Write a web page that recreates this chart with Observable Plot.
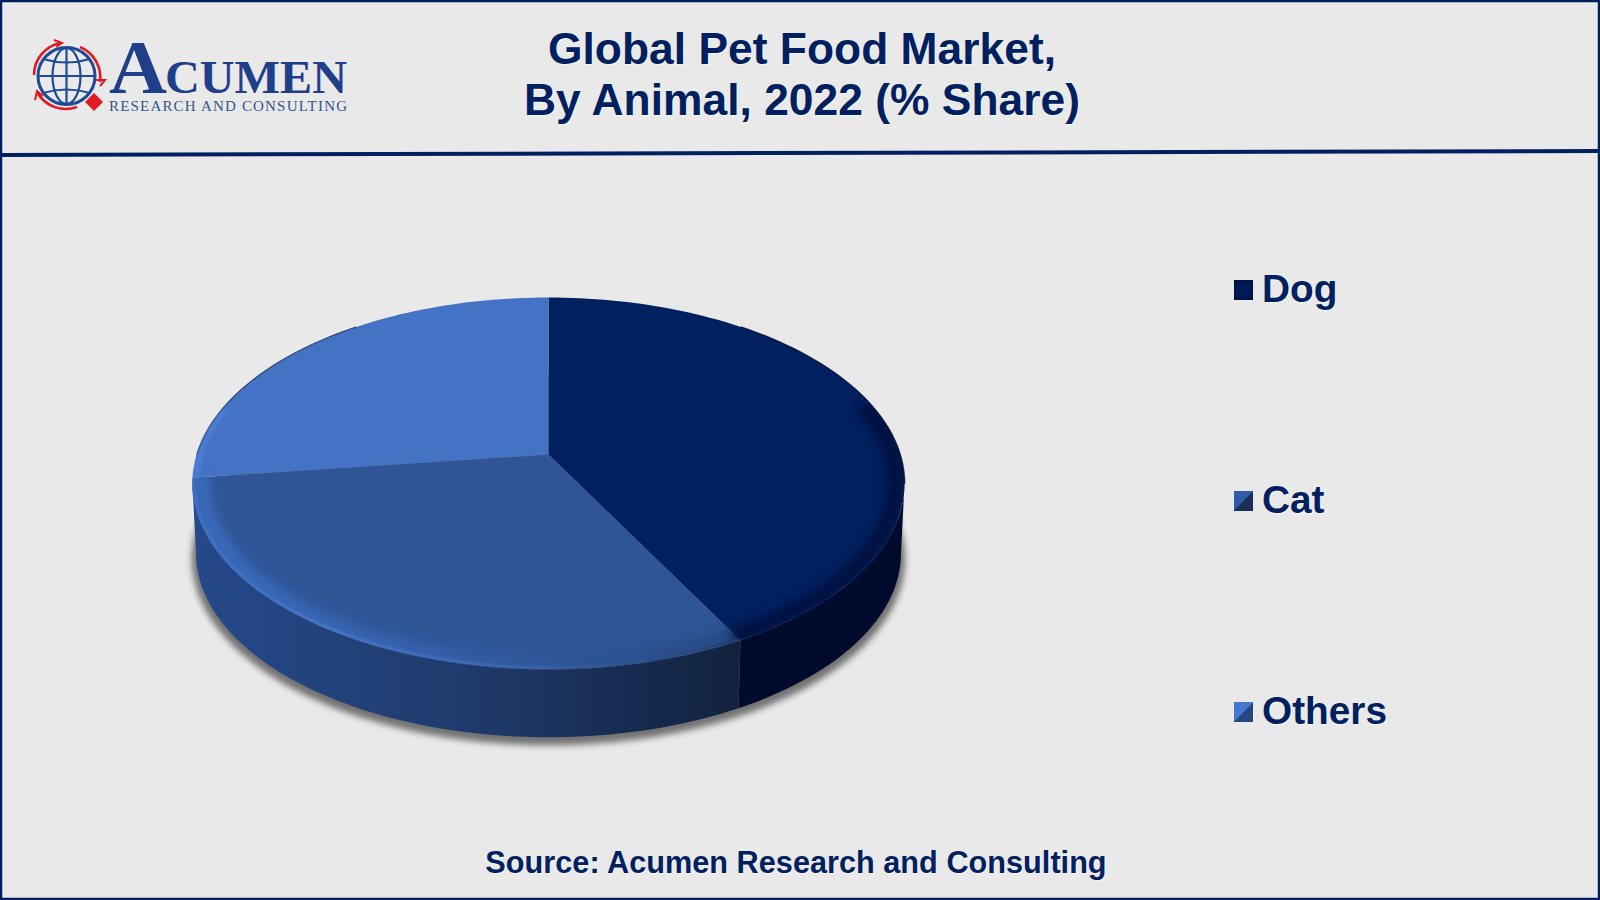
<!DOCTYPE html>
<html>
<head>
<meta charset="utf-8">
<script src="https://cdn.jsdelivr.net/npm/d3@7"></script>
<script src="https://cdn.jsdelivr.net/npm/@observablehq/plot@0.6"></script>
<style>
  html,body{margin:0;padding:0;background:#e9e9e9;}
  #page{position:relative;width:1600px;height:900px;background:#e9e9e9;overflow:hidden;font-family:"Liberation Sans",Arial,sans-serif;color:#002060;}
  #chart,#deco{position:absolute;left:0;top:0;}
  .t{position:absolute;font-weight:700;white-space:nowrap;text-shadow:1px 1px 1px rgba(255,255,255,.7);}
  #title{left:302px;width:1000px;top:23px;text-align:center;font-size:44.4px;line-height:51px;}
  #source{left:296px;width:1000px;top:845px;text-align:center;font-size:30.7px;line-height:36px;}
  .lab{left:1262px;font-size:38.8px;line-height:44px;}
  .sw{position:absolute;left:1234px;width:19px;height:20px;}
</style>
</head>
<body>
<div id="page"></div>
<script>
const categories = ["Dog", "Cat", "Others"];
const shares = [42.2, 30.8, 27];
const topColors = ["#002060", "#2f5597", "#4472c4"];
const titleLines = ["Global Pet Food Market,", "By Animal, 2022 (% Share)"];
const sourceText = "Source: Acumen Research and Consulting";

// disc seen in perspective
const persp = 0.156, depth = 0.385, baseScale = 0.99;
const toRad = Math.PI / 180;
function rim(a) {
  const u = Math.sin(a * toRad), v = Math.cos(a * toRad), w = 1 + persp * v;
  return {x: u / w, y: v / w};
}
function arc(a0, a1, r = 1, shift = 0, k = 1) {
  const n = Math.max(2, Math.ceil(Math.abs(a1 - a0) / 1.5));
  return d3.range(n + 1).map(i => {
    const p = rim(a0 + (a1 - a0) * i / n);
    return {x: p.x * r * k, y: p.y * r * k - shift};
  });
}
const sliceBounds = [];
{
  let acc = 0;
  shares.forEach(s => { sliceBounds.push([acc / 100 * 360, (acc + s) / 100 * 360]); acc += s; });
}
const sideFrom = Math.acos(-persp) / toRad, sideTo = 360 - sideFrom;

const faces = sliceBounds.map(([a0, a1]) => [{x: 0, y: 0}, ...arc(a0, a1), {x: 0, y: 0}]);
const sides = sliceBounds.map(([a0, a1]) => {
  const s = Math.max(a0, sideFrom), e = Math.min(a1, sideTo);
  if (e <= s) return [];
  return [...arc(s, e), ...arc(e, s, 1, depth, baseScale)];
});
const shadow = [...arc(0, 360, 1.012, depth + 0.03, baseScale)];

const sideFills = ["#000a2d", "url(#sideCat)", "#24467f"];

function defs(index, scales) {
  const d = d3.create("svg:defs");
  const grad = (id, stops) => {
    const g = d.append("linearGradient").attr("id", id);
    stops.forEach(([o, c, op]) => g.append("stop").attr("offset", o).attr("stop-color", c).attr("stop-opacity", op ?? 1));
  };
  grad("sideCat", [[0, "#25498a"], [0.5, "#1f3b6c"], [0.8, "#172b50"], [1, "#12223e"]]);
  grad("rimCat", [[0, "#3f72c8"], [0.25, "#4579cc"], [0.55, "#3f6bb8"], [0.8, "#2f5597"], [1, "#1f3b6e"]]);
  grad("rimCatSoft", [[0, "#3f72c8"], [0.35, "#3a68b8"], [0.7, "#2f5597"], [1, "#254680"]]);
  const path = d3.line(p => scales.x(p.x), p => scales.y(p.y));
  d.append("clipPath").attr("id", "topClip").append("path").attr("d", path(arc(0, 360)) + "Z");
  return d.node();
}
function clipTop(index, scales, values, dimensions, context, next) {
  const g = next(index, scales, values, dimensions, context);
  const wrap = d3.create("svg:g").attr("clip-path", "url(#topClip)");
  wrap.node().appendChild(g);
  return wrap.node();
}

const chart = Plot.plot({
  width: 1600, height: 900,
  margin: 0,
  style: {background: "transparent"},
  x: {domain: [-1, 1], range: [548 - 351.7, 548 + 351.7], axis: null},
  y: {domain: [-1, 1], range: [454 + 181.5, 454 - 181.5], axis: null},
  marks: [
    defs,
    Plot.line(shadow, {x: "x", y: "y", fill: "#666666", stroke: "none", fillOpacity: 0.9, imageFilter: "blur(3px)"}),
    ...faces.map((f, i) => Plot.line(f, {x: "x", y: "y", fill: topColors[i], stroke: "none"})),
    // back edge
    Plot.line(arc(38, 99), {x: "x", y: "y", stroke: "#000a2d", strokeWidth: 1.5, strokeOpacity: 0.8}),
    Plot.line(arc(270, 322), {x: "x", y: "y", stroke: "#1a2f58", strokeWidth: 1.2, strokeOpacity: 0.8}),
    // soft bevel on the front rim
    Plot.line(arc(75, sliceBounds[0][1], 0.975), {x: "x", y: "y", stroke: "#000c33", strokeWidth: 16, strokeOpacity: 0.7, imageFilter: "blur(5px)", render: clipTop}),
    Plot.line(arc(sliceBounds[1][0] + 2, sliceBounds[1][1] - 1, 0.975), {x: "x", y: "y", stroke: "url(#rimCatSoft)", strokeWidth: 16, strokeOpacity: 0.8, imageFilter: "blur(6px)", render: clipTop}),
    Plot.line(arc(sliceBounds[1][0] + 1, sliceBounds[1][1] - 1, 0.995), {x: "x", y: "y", stroke: "url(#rimCat)", strokeWidth: 4, imageFilter: "blur(1.5px)", render: clipTop}),
    Plot.line(arc(sliceBounds[2][0] + 0.5, 285, 0.99), {x: "x", y: "y", stroke: "#5585dc", strokeWidth: 5, strokeOpacity: .7, imageFilter: "blur(2px)", render: clipTop}),
    // sides
    ...sides.map((f, i) => f.length ? Plot.line(f, {x: "x", y: "y", fill: sideFills[i], stroke: "none"}) : null)
  ]
});
chart.id = "chart";

const page = document.getElementById("page");
page.appendChild(chart);

// frame, header rule and logo
const NS = "http://www.w3.org/2000/svg";
const deco = document.createElementNS(NS, "svg");
deco.setAttribute("id", "deco");
deco.setAttribute("width", 1600);
deco.setAttribute("height", 900);
deco.innerHTML = `
  <rect x="1" y="1" width="1598" height="898" fill="none" stroke="#002060" stroke-width="2.5"/>
  <polygon points="0,153 1600,149 1600,153 0,157" fill="#002060"/>
  <g fill="none" stroke="#1f4a96" stroke-width="2.2">
    <circle cx="66.5" cy="76" r="28.5" stroke-width="3"/>
    <ellipse cx="66.5" cy="76" rx="14" ry="28"/>
    <line x1="66.5" y1="48" x2="66.5" y2="104"/>
    <line x1="38" y1="76" x2="95" y2="76"/>
    <path d="M43 59 Q66.5 66 90 59"/>
    <path d="M43 93 Q66.5 86 90 93"/>
  </g>
  <g fill="none" stroke="#e01b22" stroke-width="2.6">
    <path d="M34 75 A33 33 0 0 1 60 43"/>
    <path d="M54 40 L62 43 L56 47" stroke-width="2"/>
    <path d="M80 47 A33 33 0 0 1 100 82"/>
    <path d="M96 80 L105 80 L100 86" stroke-width="2"/>
    <path d="M77 107 A33 33 0 0 1 37 92"/>
    <path d="M35 100 L37 91 L43 96" stroke-width="2"/>
  </g>
  <polygon points="94,93 103,102 94,111 85,102" fill="#e01b22"/>
  <text x="109" y="93" font-family="Liberation Serif" font-weight="700" font-size="76" fill="#1f3f8a" textLength="58" lengthAdjust="spacingAndGlyphs">A</text>
  <text x="165" y="93" font-family="Liberation Serif" font-weight="700" font-size="47" fill="#1f3f8a" textLength="182" lengthAdjust="spacingAndGlyphs">CUMEN</text>
  <text x="109" y="111" font-family="Liberation Serif" font-size="15" fill="#34558f" textLength="238" lengthAdjust="spacing">RESEARCH AND CONSULTING</text>
`;
page.appendChild(deco);

function addText(cls, id, html, top) {
  const el = document.createElement("div");
  el.className = "t " + cls;
  if (id) el.id = id;
  el.innerHTML = html;
  if (top != null) el.style.top = top + "px";
  page.appendChild(el);
}
addText("", "title", titleLines.join("<br>"));
addText("", "source", sourceText);

const labelTops = [267, 478, 689];
const swatchTops = [280, 491, 702];
const swatches = [
  "radial-gradient(circle at 50% 50%, #001a55 0%, #00185a 45%, #000f33 100%)",
  "linear-gradient(to bottom right, #2f5ba8 0 50%, #1b2f56 50% 100%)",
  "linear-gradient(to bottom right, #4478d0 0 50%, #26477f 50% 100%)"
];
categories.forEach((c, i) => {
  addText("lab", null, c, labelTops[i]);
  const s = document.createElement("div");
  s.className = "sw";
  s.style.top = swatchTops[i] + "px";
  s.style.background = swatches[i];
  page.appendChild(s);
});
</script>
</body>
</html>
